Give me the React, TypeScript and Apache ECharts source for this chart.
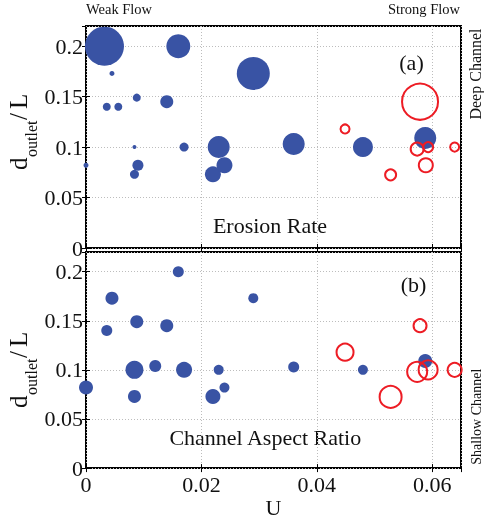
import React, { useEffect, useRef } from "react";
import * as echarts from "echarts";

// Blue (filled) points: shared positions, bubble size per panel
const blueU = [0.0032, 0.016, 0.029, 0.0045, 0.0036, 0.0056, 0.0088, 0.014, 0.0084, 0.017, 0.023, 0.036, 0.048, 0.0588, 0, 0.009, 0.0084, 0.022, 0.024, 0.012];
const blueD = [0.2, 0.2, 0.173, 0.173, 0.14, 0.14, 0.149, 0.145, 0.1, 0.1, 0.1, 0.103, 0.1, 0.109, 0.082, 0.082, 0.073, 0.073, 0.082, 0.104];
const blueErosion = [39, 24, 33, 5, 8, 8, 8, 13, 4, 9, 22, 22, 20, 22, 5, 11, 9, 16, 16, 0];
const blueAspect = [0, 11, 10, 13, 11, 0, 13, 13, 18, 16, 10, 11, 10, 14, 14, 0, 13, 15, 10, 12];

// Red (open) points
const redU = [0.0579, 0.0449, 0.0574, 0.0593, 0.0639, 0.0589, 0.0528];
const redD = [0.145, 0.118, 0.098, 0.1, 0.1, 0.082, 0.0725];
const redErosion = [36, 9, 13, 10, 9, 14, 11];
const redAspect = [13, 17, 20, 19, 14, 0, 22];

const xTicks = [0, 0.02, 0.04, 0.06];
const yTicks = [0, 0.05, 0.1, 0.15, 0.2];
const X_MAX = 0.065;
const Y_MAX = 0.22;

const FONT = "'Liberation Serif', 'Times New Roman', serif";
const BLUE = "#3953a4";
const RED = "#ed1c24";

function pts(us: number[], ds: number[], sizes: number[]) {
  const out: number[][] = [];
  us.forEach((u, i) => {
    if (sizes[i] > 0) out.push([u, ds[i], sizes[i]]);
  });
  return out;
}

function mainX(grid: number, showLabels: boolean, name?: string) {
  return {
    type: "value", gridIndex: grid, position: "bottom", min: 0, max: X_MAX, interval: xTicks[1] - xTicks[0],
    axisLine: { show: false },
    axisTick: { show: true, inside: true, length: 4, lineStyle: { color: "#000", width: 1 } },
    axisLabel: { show: showLabels, showMaxLabel: false, margin: 5, fontSize: 22, fontFamily: FONT, color: "#111" },
    splitLine: { show: true, lineStyle: { color: "#bdbdbd", type: [1, 2], width: 1 } },
    name: name || "", nameLocation: "middle", nameGap: 21,
    nameTextStyle: { fontSize: 22, fontFamily: FONT, color: "#111" },
  };
}
function sideX(grid: number) {
  return {
    type: "value", gridIndex: grid, position: "top", min: 0, max: X_MAX, interval: xTicks[1] - xTicks[0],
    axisLine: { show: false }, axisLabel: { show: false }, splitLine: { show: false },
    axisTick: { show: true, inside: true, length: 4, lineStyle: { color: "#000", width: 1 } },
  };
}
function mainY(grid: number) {
  return {
    type: "value", gridIndex: grid, position: "left", min: 0, max: Y_MAX, interval: yTicks[1] - yTicks[0],
    axisLine: { show: false },
    axisTick: { show: true, inside: true, length: 4, lineStyle: { color: "#000", width: 1 } },
    axisLabel: { show: true, showMaxLabel: false, margin: 3, fontSize: 22, fontFamily: FONT, color: "#111" },
    splitLine: { show: true, lineStyle: { color: "#bdbdbd", type: [1, 2], width: 1 } },
  };
}
function sideY(grid: number) {
  return {
    type: "value", gridIndex: grid, position: "right", min: 0, max: Y_MAX, interval: yTicks[1] - yTicks[0],
    axisLine: { show: false }, axisLabel: { show: false }, splitLine: { show: false },
    axisTick: { show: true, inside: true, length: 4, lineStyle: { color: "#000", width: 1 } },
  };
}

function yName(baseX: number, startY: number) {
  const t = (text: string, x: number, y: number, size: number) => ({
    type: "text", x, y,
    style: { text, fontSize: size, fontFamily: FONT, fill: "#111", align: "left", verticalAlign: "middle" },
  });
  return {
    type: "group", x: baseX, y: startY, rotation: Math.PI / 2,
    children: [t("d", 0, -8.5, 25), t("outlet", 13, 4.6, 16), t("/", 50, -8.5, 25), t("L", 61, -8.5, 25)],
  };
}

function label(text: string, x: number, y: number, size: number, align = "center", rotation = 0) {
  return {
    type: "text", x, y, rotation,
    style: { text, fontSize: size, fontFamily: FONT, fill: "#111", align, verticalAlign: "middle" },
  };
}

export default function App() {
  const ref = useRef<HTMLDivElement>(null);
  useEffect(() => {
    if (!ref.current) return;
    const chart = echarts.init(ref.current, undefined, { renderer: "svg" });
    const blueStyle = { color: BLUE, opacity: 1 };
    const redStyle = { color: "rgba(0,0,0,0)", borderColor: RED, borderWidth: 2, opacity: 1 };
    chart.setOption({
      animation: false,
      grid: [
        { left: 86, top: 26, width: 375, height: 222, show: true, borderColor: "#000", borderWidth: 2, backgroundColor: "transparent" },
        { left: 86, top: 252, width: 375, height: 221, show: true, borderColor: "#000", borderWidth: 2, backgroundColor: "transparent" },
      ],
      xAxis: [mainX(0, false), mainX(1, true, "U"), sideX(0), sideX(1)],
      yAxis: [mainY(0), mainY(1), sideY(0), sideY(1)],
      series: [
        { type: "scatter", name: "Erosion Rate", xAxisIndex: 0, yAxisIndex: 0, data: pts(blueU, blueD, blueErosion), symbol: "circle", symbolSize: (v: number[]) => v[2], itemStyle: blueStyle },
        { type: "scatter", name: "Erosion Rate (strong)", xAxisIndex: 0, yAxisIndex: 0, data: pts(redU, redD, redErosion), symbol: "circle", symbolSize: (v: number[]) => v[2], itemStyle: redStyle, clip: false },
        { type: "scatter", name: "Channel Aspect Ratio", xAxisIndex: 1, yAxisIndex: 1, data: pts(blueU, blueD, blueAspect), symbol: "circle", symbolSize: (v: number[]) => v[2], itemStyle: blueStyle },
        { type: "scatter", name: "Channel Aspect Ratio (strong)", xAxisIndex: 1, yAxisIndex: 1, data: pts(redU, redD, redAspect), symbol: "circle", symbolSize: (v: number[]) => v[2], itemStyle: redStyle, clip: false },
      ],
      graphic: [
        yName(26.7, 170),
        yName(26.7, 408),
        label("Weak Flow", 86, 8.5, 14.5, "left"),
        label("Strong Flow", 460, 8.5, 14.5, "right"),
        label("(a)", 411.5, 62, 22),
        label("(b)", 413.5, 284, 22),
        label("Erosion Rate", 270, 225.5, 22),
        label("Channel Aspect Ratio", 265.3, 437, 22),
        label("Deep Channel", 475.5, 74, 16, "center", Math.PI / 2),
        label("Shallow Channel", 476.5, 416.7, 14, "center", Math.PI / 2),
      ],
    });
    return () => chart.dispose();
  }, []);
  return <div ref={ref} style={{ position: "fixed", left: 0, top: 0, width: 484, height: 519 }} />;
}
